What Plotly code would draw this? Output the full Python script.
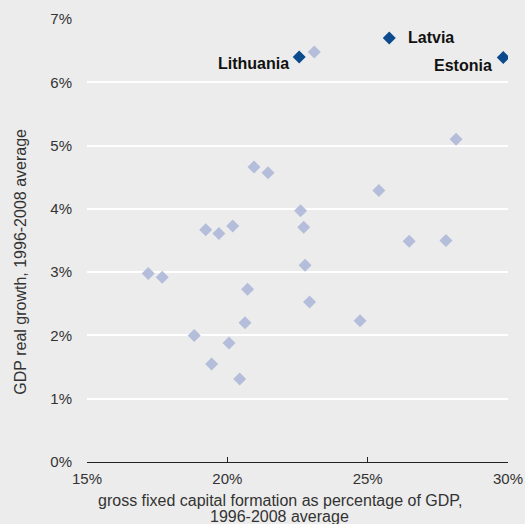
"""GDP growth vs gross fixed capital formation scatter."""

import plotly.graph_objects as go

_BG = "#ececec"
_GRAY = "#b4bedb"
_BLUE = "#0b4a8c"
_TEXT = "#333333"
_FONT = "Liberation Sans, Arial, sans-serif"

# other countries: investment share (% of GDP) and real growth (%)
other_gfcf = [23.10, 28.15, 20.95, 21.45, 25.40, 22.61, 22.72, 26.48, 27.79,
              19.23, 19.70, 20.19, 17.18, 17.68, 20.72, 20.63, 18.82, 20.06,
              19.44, 20.44, 22.77, 22.93, 24.73]
other_growth = [6.48, 5.10, 4.66, 4.57, 4.29, 3.97, 3.71, 3.49, 3.50,
                3.67, 3.61, 3.73, 2.98, 2.92, 2.73, 2.20, 2.00, 1.88,
                1.55, 1.31, 3.11, 2.53, 2.23]

# Baltic states
baltic_names = ["Lithuania", "Latvia", "Estonia"]
baltic_gfcf = [22.56, 25.77, 29.83]
baltic_growth = [6.40, 6.70, 6.39]

x_ticks = [15, 20, 25, 30]
x_tick_labels = ["15%", "20%", "25%", "30%"]
y_ticks = [0, 1, 2, 3, 4, 5, 6, 7]
y_tick_labels = ["0%", "1%", "2%", "3%", "4%", "5%", "6%", "7%"]

x_title_lines = ["gross fixed capital formation as percentage of GDP,", "1996-2008 average"]
y_title = "GDP real growth, 1996-2008 average"

fig = go.Figure()
fig.add_trace(
    go.Scatter(
        x=other_gfcf,
        y=other_growth,
        mode="markers",
        marker=dict(symbol="diamond", size=10, color=_GRAY, line=dict(width=0)),
        hoverinfo="x+y",
    )
)
fig.add_trace(
    go.Scatter(
        x=baltic_gfcf,
        y=baltic_growth,
        mode="markers",
        marker=dict(symbol="diamond", size=10, color=_BLUE, line=dict(width=0)),
        text=baltic_names,
        hoverinfo="text+x+y",
    )
)

# label placement: (xanchor, xshift, yshift)
label_pos = {
    "Lithuania": ("right", -8, -7),
    "Latvia": ("left", 17, 0),
    "Estonia": ("right", -9, -8),
}
for name, gx, gy in zip(baltic_names, baltic_gfcf, baltic_growth):
    anchor, dx, dy = label_pos[name]
    fig.add_annotation(
        x=gx,
        y=gy,
        text=name,
        showarrow=False,
        xanchor=anchor,
        yanchor="middle",
        xshift=dx,
        yshift=dy,
        font=dict(family=_FONT, size=16, color="#111111", weight="bold"),
    )

# axis titles as paper annotations (the originals sit off-centre)
for line, ypos in zip(x_title_lines, [-0.087, -0.124]):
    fig.add_annotation(
        x=0.458, y=ypos, xref="paper", yref="paper",
        text=line, showarrow=False, xanchor="center", yanchor="middle",
        font=dict(family=_FONT, size=16, color=_TEXT),
    )
fig.add_annotation(
    x=-0.157, y=0.452, xref="paper", yref="paper",
    text=y_title, showarrow=False, textangle=-90,
    xanchor="center", yanchor="middle",
    font=dict(family=_FONT, size=16, color=_TEXT),
)

fig.update_layout(
    width=525,
    height=524,
    showlegend=False,
    paper_bgcolor=_BG,
    plot_bgcolor=_BG,
    margin=dict(l=87, r=17, t=19, b=62, pad=0),
    font=dict(family=_FONT, size=15, color=_TEXT),
    xaxis=dict(
        range=[15, 30],
        tickvals=x_ticks,
        ticktext=x_tick_labels,
        automargin=False,
        showgrid=False,
        zeroline=False,
        showline=True,
        linecolor="#222222",
        linewidth=1,
        ticks="inside",
        ticklen=5,
        tickcolor="#222222",
        tickfont=dict(size=15, color=_TEXT),
        ticklabelstandoff=3,
    ),
    yaxis=dict(
        range=[0, 7],
        tickvals=y_ticks,
        ticktext=y_tick_labels,
        automargin=False,
        showgrid=True,
        gridcolor="#ffffff",
        gridwidth=1.5,
        zeroline=False,
        showline=False,
        ticks="",
        tickfont=dict(size=15, color=_TEXT),
        ticklabelstandoff=14,
    ),
)

# page margin off so the 525x524 figure fills the window
fig.write_html(
    "out.html",
    config={"displayModeBar": False},
    post_script="document.body.style.margin='0';document.body.style.overflow='hidden';",
)
